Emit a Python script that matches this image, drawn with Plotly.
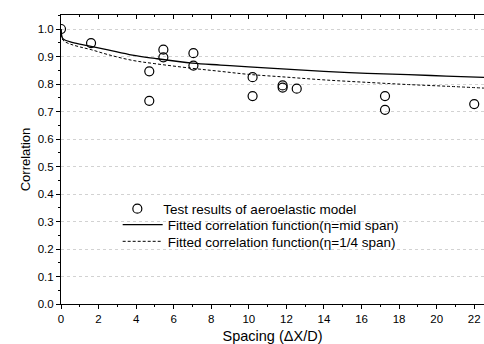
import plotly.graph_objects as go

# Test results
test_x = [0.0, 1.6, 4.7, 4.7, 5.45, 5.45, 7.05, 7.05, 10.2, 10.2, 11.8, 11.8, 12.55, 17.25, 17.25, 22.0]
test_y = [1.0, 0.949, 0.846, 0.739, 0.925, 0.897, 0.912, 0.867, 0.825, 0.756, 0.795, 0.787, 0.783, 0.756, 0.706, 0.727]

# Fitted curve, eta = mid span
mid_x = [0.0, 0.02, 0.05, 0.1, 0.2, 0.5, 1.0, 1.6, 2.5, 3.8, 5.0, 7.0, 8.5, 10.0, 12.0, 14.0, 16.3, 18.5, 20.5, 22.55]
mid_y = [1.0, 0.985, 0.972, 0.965, 0.960, 0.953, 0.945, 0.937, 0.924, 0.905, 0.893, 0.876, 0.869, 0.862, 0.854, 0.846, 0.839, 0.834, 0.829, 0.824]

# Fitted curve, eta = 1/4 span
q_x = [0.0, 0.02, 0.05, 0.1, 0.2, 0.5, 1.0, 1.6, 2.5, 3.8, 5.0, 7.0, 8.5, 10.0, 12.0, 14.0, 16.3, 18.5, 20.5, 22.55]
q_y = [1.0, 0.982, 0.968, 0.960, 0.954, 0.945, 0.935, 0.925, 0.907, 0.886, 0.874, 0.857, 0.846, 0.835, 0.825, 0.815, 0.806, 0.798, 0.792, 0.785]

FONT = "Arial, Liberation Sans, sans-serif"

fig = go.Figure()
fig.add_trace(go.Scatter(
    x=test_x, y=test_y, mode="markers", legend="legend",
    name="Test results of aeroelastic model",
    marker=dict(symbol="circle-open", size=9, color="black", line=dict(width=1.2)),
))
fig.add_trace(go.Scatter(
    x=mid_x, y=mid_y, mode="lines", line_shape="spline", legend="legend2",
    name="Fitted correlation function(\u03b7=mid span)",
    line=dict(color="black", width=1.3),
))
fig.add_trace(go.Scatter(
    x=q_x, y=q_y, mode="lines", line_shape="spline", legend="legend3",
    name="Fitted correlation function(\u03b7=1/4 span)",
    line=dict(color="black", width=1.0, dash="3px,2px"),
))

def leg(x, y, w):
    return dict(x=x, y=y, xanchor="left", yanchor="middle", bgcolor="rgba(0,0,0,0)",
                font=dict(size=13.5, family=FONT, color="black"), itemwidth=w,
                borderwidth=0)

fig.update_layout(
    width=484, height=344,
    margin=dict(l=61, r=0, t=15, b=40),
    paper_bgcolor="white", plot_bgcolor="white",
    font=dict(family=FONT, size=11.5, color="black"),
    showlegend=True,
    legend=leg(0.119, 0.329, 42),
    legend2=leg(0.134, 0.2736, 40),
    legend3=leg(0.134, 0.2161, 40),
    xaxis=dict(
        range=[0, 22.52], showgrid=False, zeroline=False, automargin=False,
        showline=True, linecolor="black", linewidth=1, mirror=False,
        ticks="outside", ticklen=4, tickcolor="black",
        tick0=0, dtick=2,
        minor=dict(ticks="outside", ticklen=2, dtick=1, tickcolor="black", showgrid=False),
        title=dict(text="Spacing (\u0394X/D)", font=dict(size=14.5), standoff=12),
        tickfont=dict(size=11.5),
    ),
    xaxis2=dict(
        overlaying="x", side="top", matches="x", range=[0, 22.52], automargin=False,
        showgrid=False, zeroline=False, showline=True, linecolor="black", linewidth=1,
        ticks="inside", ticklen=4, tickcolor="black", tick0=0, dtick=2,
        minor=dict(ticks="inside", ticklen=2, dtick=1, tickcolor="black"),
        showticklabels=False,
    ),
    yaxis=dict(
        range=[0, 1.051], showgrid=True, gridcolor="#d2d2d2", griddash="dot", gridwidth=1,
        zeroline=False, showline=True, linecolor="black", linewidth=1, automargin=False,
        ticks="outside", ticklen=4, tickcolor="black",
        tick0=0, dtick=0.1, tickformat=".1f",
        minor=dict(ticks="outside", ticklen=2, dtick=0.05, tickcolor="black", showgrid=False),
        title=dict(text="Correlation", font=dict(size=13), standoff=4),
        tickfont=dict(size=11.5),
    ),
)
fig.add_trace(go.Scatter(x=[None], y=[None], xaxis="x2", showlegend=False, hoverinfo="skip"))

fig.write_html("out.html")
